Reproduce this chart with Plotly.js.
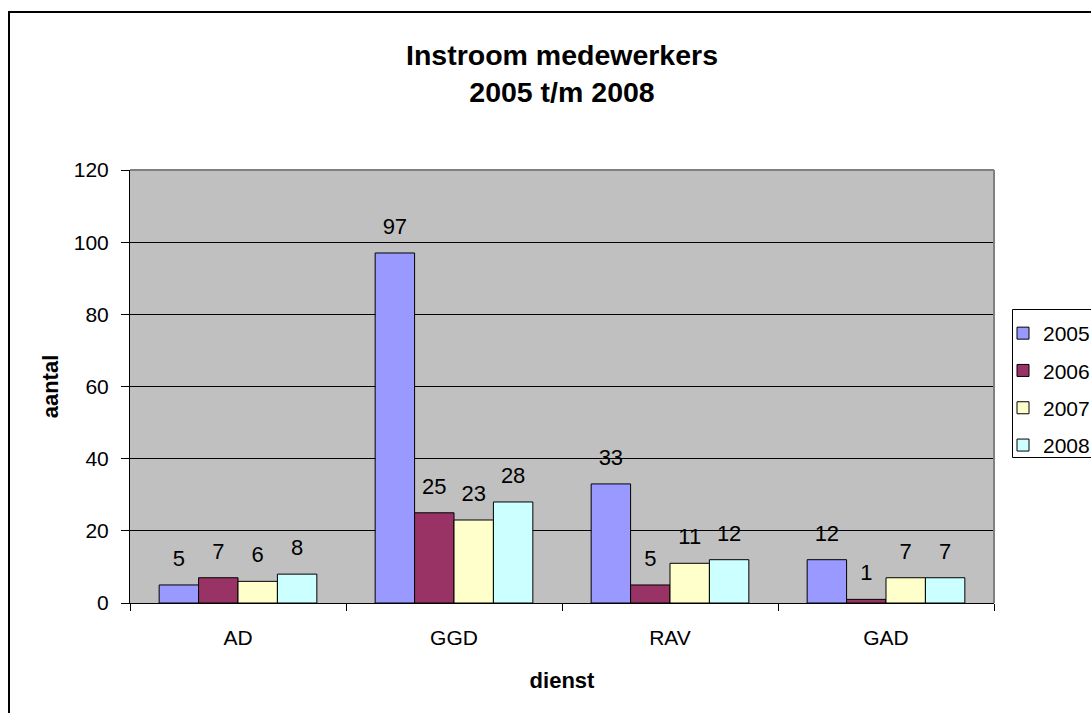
<!DOCTYPE html>
<html>
<head>
<meta charset="utf-8">
<script src="https://cdn.plot.ly/plotly-3.0.1.min.js"></script>
<style>
  html, body { margin: 0; padding: 0; background: #fff; }
  #wrap { position: relative; width: 1091px; height: 713px; overflow: hidden; }
  #frame { position: absolute; left: 8px; top: 11px; right: -10px; bottom: -10px;
           border-left: 2px solid #000; border-top: 2px solid #000; pointer-events: none; }
</style>
</head>
<body>
<div id="wrap">
  <div id="chart" style="width:1091px;height:713px;"></div>
  <div id="frame"></div>
</div>
<script>
const categories = ['AD', 'GGD', 'RAV', 'GAD'];
const seriesNames = ['2005', '2006', '2007', '2008'];
const values2005 = [5, 97, 33, 12];
const values2006 = [7, 25, 5, 1];
const values2007 = [6, 23, 11, 7];
const values2008 = [8, 28, 12, 7];
const seriesValues = [values2005, values2006, values2007, values2008];
const seriesColors = ['#9999FF', '#993366', '#FFFFCC', '#CCFFFF'];
const yTicks = [0, 20, 40, 60, 80, 100, 120];

const FONT = 'Liberation Sans, Arial, sans-serif';
const GAP = 0.27;

// plot area in pixels (for converting frame/legend box positions to paper units)
const PL = 130, PR = 994, PT = 170, PB = 603;
const px2x = p => (p - PL) / (PR - PL);
const py2y = p => (PB - p) / (PB - PT);

const traces = [];
seriesNames.forEach((name, i) => {
  traces.push({
    type: 'bar',
    name: name,
    x: categories,
    y: seriesValues[i],
    legendgroup: 'g' + i,
    marker: { color: seriesColors[i], line: { color: '#000', width: 1 } },
    hoverinfo: 'x+y+name'
  });
});
seriesNames.forEach((name, i) => {
  traces.push({
    type: 'scatter',
    mode: 'markers+text',
    name: name,
    x: categories,
    y: seriesValues[i],
    text: seriesValues[i].map(String),
    textposition: 'top center',
    textfont: { family: FONT, size: 22, color: '#000' },
    marker: { size: 20, opacity: 0 },
    showlegend: false,
    hoverinfo: 'skip',
    cliponaxis: false
  });
});

const layout = {
  width: 1091,
  height: 713,
  margin: { l: PL, r: 1091 - PR, t: PT, b: 713 - PB },
  paper_bgcolor: 'rgba(0,0,0,0)',
  plot_bgcolor: '#C0C0C0',
  font: { family: FONT, size: 21, color: '#000' },
  barmode: 'group',
  bargap: GAP,
  bargroupgap: 0,
  scattermode: 'group',
  scattergap: GAP,
  title: {
    text: '<b>Instroom medewerkers</b><br><b>2005 t/m 2008</b>',
    font: { family: FONT, size: 28.5, color: '#000' },
    xref: 'paper', x: 0.5, xanchor: 'center',
    yref: 'container', y: 1 - 65 / 713, yanchor: 'middle'
  },
  xaxis: {
    type: 'category',
    showline: true, linecolor: '#000', linewidth: 1,
    ticks: 'outside', tickson: 'boundaries', ticklen: 7, tickcolor: '#000', tickwidth: 1,
    ticklabelstandoff: 16,
    tickfont: { family: FONT, size: 21, color: '#000' },
    title: { text: '<b>dienst</b>', font: { family: FONT, size: 22, color: '#000' }, standoff: 24 },
    showgrid: false, zeroline: false, fixedrange: true
  },
  yaxis: {
    range: [0, 120],
    tickvals: yTicks,
    ticktext: yTicks.map(String),
    showline: true, linecolor: '#000', linewidth: 1,
    ticks: 'outside', ticklen: 8, tickcolor: '#000', tickwidth: 1,
    ticklabelstandoff: 8,
    tickfont: { family: FONT, size: 21, color: '#000' },
    showgrid: true, gridcolor: '#000', gridwidth: 1,
    zeroline: false,
    title: { text: '<b>aantal</b>', font: { family: FONT, size: 22, color: '#000' }, standoff: 9 },
    fixedrange: true
  },
  legend: {
    xref: 'container', yref: 'container',
    x: 1003 / 1091, xanchor: 'left',
    y: 1 - 313 / 713, yanchor: 'top',
    bgcolor: 'rgba(0,0,0,0)', borderwidth: 0,
    font: { family: FONT, size: 21, color: '#000' },
    traceorder: 'grouped', tracegroupgap: 7
  },
  shapes: [
    { type: 'line', xref: 'paper', yref: 'paper', x0: 0, x1: 1, y0: 1, y1: 1,
      line: { color: '#808080', width: 2 } },
    { type: 'line', xref: 'paper', yref: 'paper', x0: 1, x1: 1, y0: 0, y1: 1,
      line: { color: '#808080', width: 2 } },
    { type: 'rect', xref: 'paper', yref: 'paper', layer: 'above',
      x0: px2x(1012.5), x1: px2x(1110), y0: py2y(309.5), y1: py2y(457.5),
      fillcolor: '#FFFFFF', line: { color: '#000', width: 1 } }
  ],
  showlegend: true
};

Plotly.newPlot('chart', traces, layout, { displayModeBar: false, staticPlot: true });
</script>
</body>
</html>
